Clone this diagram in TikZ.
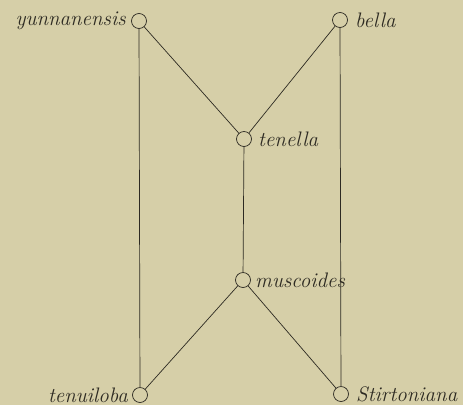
\documentclass[tikz,border=0pt]{standalone}
\usepackage{tikz}
\usetikzlibrary{positioning}
\definecolor{paper}{RGB}{214,207,168}
\definecolor{ink}{RGB}{45,42,34}

\begin{document}
\begin{tikzpicture}[x=1pt, y=-1pt, line width=0.7pt, draw=ink,
  taxon/.style={circle, draw=ink, minimum size=15pt, inner sep=0pt},
  lab/.style={text=ink, inner sep=1pt,
    font=\fontsize{21}{24}\selectfont\itshape}]
  \fill[paper] (0,0) rectangle (463,405);
  \node[taxon] (yun) at (139,21) {};
  \node[taxon] (bel) at (340,20) {};
  \node[taxon] (ten) at (244,139) {};
  \node[taxon] (mus) at (243,280) {};
  \node[taxon] (tnl) at (140,395) {};
  \node[taxon] (sti) at (341,394) {};
  \node[lab, left=4pt of yun] (yunL) {yunnanensis};
  \node[lab, right=6pt of bel] (belL) {bella};
  \node[lab, right=5pt of ten] (tenL) {tenella};
  \node[lab, right=3pt of mus] (musL) {muscoides};
  \node[lab, left=3pt of tnl] (tnlL) {tenuiloba};
  \node[lab, right=6pt of sti] (stiL) {Stirtoniana};
  \draw (yun)--(tnl); \draw (yun)--(ten);
  \draw (bel)--(sti); \draw (bel)--(ten);
  \draw (ten)--(mus);
  \draw (mus)--(tnl); \draw (mus)--(sti);
\end{tikzpicture}
\end{document}
